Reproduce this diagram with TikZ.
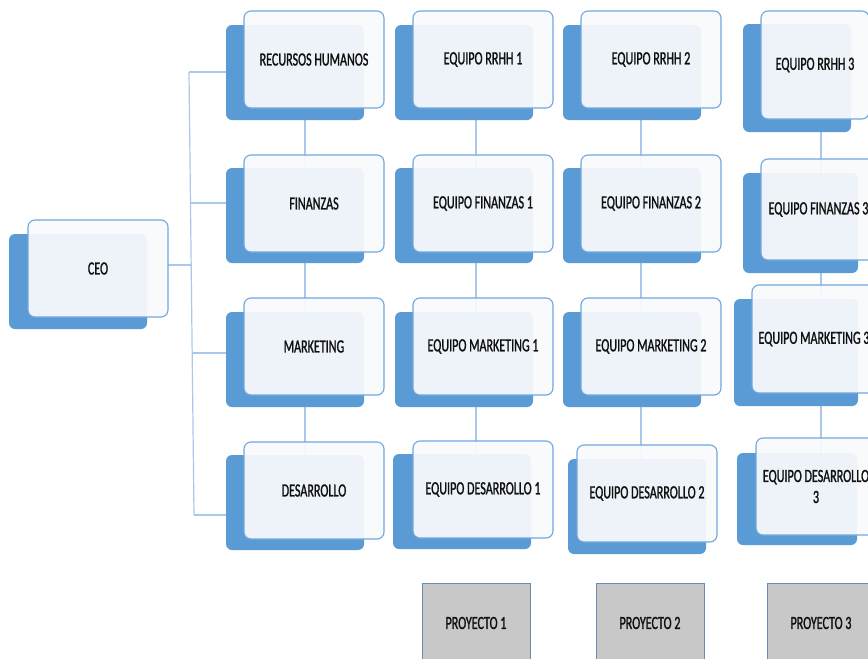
\documentclass[tikz,border=0pt]{standalone}
\usepackage{fontspec}
\newfontfamily\cfont[FakeStretch=0.65,FakeBold=1.2]{Carlito}
\definecolor{backblue}{HTML}{5B9BD5}
\definecolor{frontfill}{HTML}{F9FAFC}
\definecolor{frontline}{HTML}{70A7DF}
\definecolor{connblue}{HTML}{A9C8EA}
\definecolor{projgray}{HTML}{C8C8C8}
\definecolor{projline}{HTML}{6A8DB8}
\definecolor{txt}{HTML}{101010}
\pgfdeclarelayer{bg}
\pgfsetlayers{bg,main}
\tikzset{
  backbox/.style={anchor=north west, fill=backblue, rounded corners=6pt, inner sep=0pt, outer sep=0pt, minimum width=138pt, minimum height=95pt},
  frontbox/.style={anchor=north west, fill=frontfill, fill opacity=0.93, text opacity=1, draw=frontline, line width=1.1pt, rounded corners=7pt, inner sep=0pt, outer sep=0pt, minimum width=140pt, minimum height=97pt, font=\cfont\fontsize{18.6}{21}\selectfont, text=txt, align=center},
  projbox/.style={anchor=north west, fill=projgray, draw=projline, line width=0.9pt, inner sep=0pt, outer sep=0pt, minimum width=108pt, minimum height=80pt, font=\cfont\fontsize{18.6}{21}\selectfont, text=txt},
  conn/.style={draw=connblue, line width=1.2pt}
}
\begin{document}
\begin{tikzpicture}[x=1pt,y=-1pt]
\useasboundingbox (0,0) rectangle (868,659);
\clip (0,0) rectangle (868,659);

% CEO
\node[backbox] (ceo-b) at (9,234) {};
\node[frontbox] (ceo) at (28,220) {CEO};

% column 0: departments
\node[backbox] (rh-b) at (226,25) {};
\node[frontbox] (rh) at (244,11) {RECURSOS HUMANOS};
\node[backbox] (fin-b) at (226,168) {};
\node[frontbox] (fin) at (244,155) {FINANZAS};
\node[backbox] (mkt-b) at (226,312) {};
\node[frontbox] (mkt) at (244,298) {MARKETING};
\node[backbox] (des-b) at (226,455) {};
\node[frontbox] (des) at (244,442) {DESARROLLO};

% column 1
\node[backbox] (rh1-b) at (395,25) {};
\node[frontbox] (rh1) at (413,11) {EQUIPO RRHH 1};
\node[backbox] (fin1-b) at (395,168) {};
\node[frontbox] (fin1) at (413,155) {EQUIPO FINANZAS 1};
\node[backbox] (mkt1-b) at (395,312) {};
\node[frontbox] (mkt1) at (413,298) {EQUIPO MARKETING 1};
\node[backbox] (des1-b) at (393,454) {};
\node[frontbox] (des1) at (413,441) {EQUIPO DESARROLLO 1};

% column 2
\node[backbox] (rh2-b) at (563,25) {};
\node[frontbox] (rh2) at (581,11) {EQUIPO RRHH 2};
\node[backbox] (fin2-b) at (563,168) {};
\node[frontbox] (fin2) at (581,155) {EQUIPO FINANZAS 2};
\node[backbox] (mkt2-b) at (563,312) {};
\node[frontbox] (mkt2) at (581,298) {EQUIPO MARKETING 2};
\node[backbox] (des2-b) at (568,459) {};
\node[frontbox] (des2) at (577,445) {EQUIPO DESARROLLO 2};

% column 3
\node[backbox, minimum width=108pt, minimum height=108pt] (rh3-b) at (743,24) {};
\node[frontbox, minimum width=108pt, minimum height=108pt] (rh3) at (761,11) {EQUIPO RRHH 3};
\node[backbox, minimum width=115pt, minimum height=100pt] (fin3-b) at (743,173) {};
\node[frontbox, minimum width=115pt, minimum height=101pt] (fin3) at (761,159) {EQUIPO FINANZAS 3};
\node[backbox, minimum width=124pt, minimum height=107pt] (mkt3-b) at (734,299) {};
\node[frontbox, minimum width=124pt, minimum height=108pt] (mkt3) at (752,285) {EQUIPO MARKETING 3};
\node[backbox, minimum width=120pt, minimum height=92pt] (des3-b) at (737,453) {};
\node[frontbox, minimum width=120pt, minimum height=97pt] (des3) at (756,438) {EQUIPO DESARROLLO\\3};

% projects
\node[projbox] (p1) at (422,583) {PROYECTO 1};
\node[projbox] (p2) at (596,583) {PROYECTO 2};
\node[projbox] (p3) at (767,583) {PROYECTO 3};

% connectors
\coordinate (j0) at (191.5,265);
\coordinate (jt) at (189,72);
\coordinate (j2) at (190.5,203);
\coordinate (j3) at (192.2,353);
\coordinate (jb) at (194,515);
\coordinate (c0) at (305,0);
\coordinate (c1) at (476,0);
\coordinate (c2) at (641,0);
\coordinate (c3) at (821,0);
\begin{pgfonlayer}{bg}
\fill[white] (0,0) rectangle (868,659);
\draw[conn] (j0 -| ceo.east) -- (j0);
\draw[conn] (jt) -- (jb);
\draw[conn] (jt) -- (jt -| rh-b.west);
\draw[conn] (j2) -- (j2 -| fin-b.west);
\draw[conn] (j3) -- (j3 -| mkt-b.west);
\draw[conn] (jb) -- (jb -| des-b.west);
\draw[conn] (rh.center -| c0) -- (des.center -| c0);
\draw[conn] (rh1.center -| c1) -- (des1.center -| c1);
\draw[conn] (rh2.center -| c2) -- (des2.center -| c2);
\draw[conn] (rh3.center -| c3) -- (des3.center -| c3);
\end{pgfonlayer}
\end{tikzpicture}
\end{document}
